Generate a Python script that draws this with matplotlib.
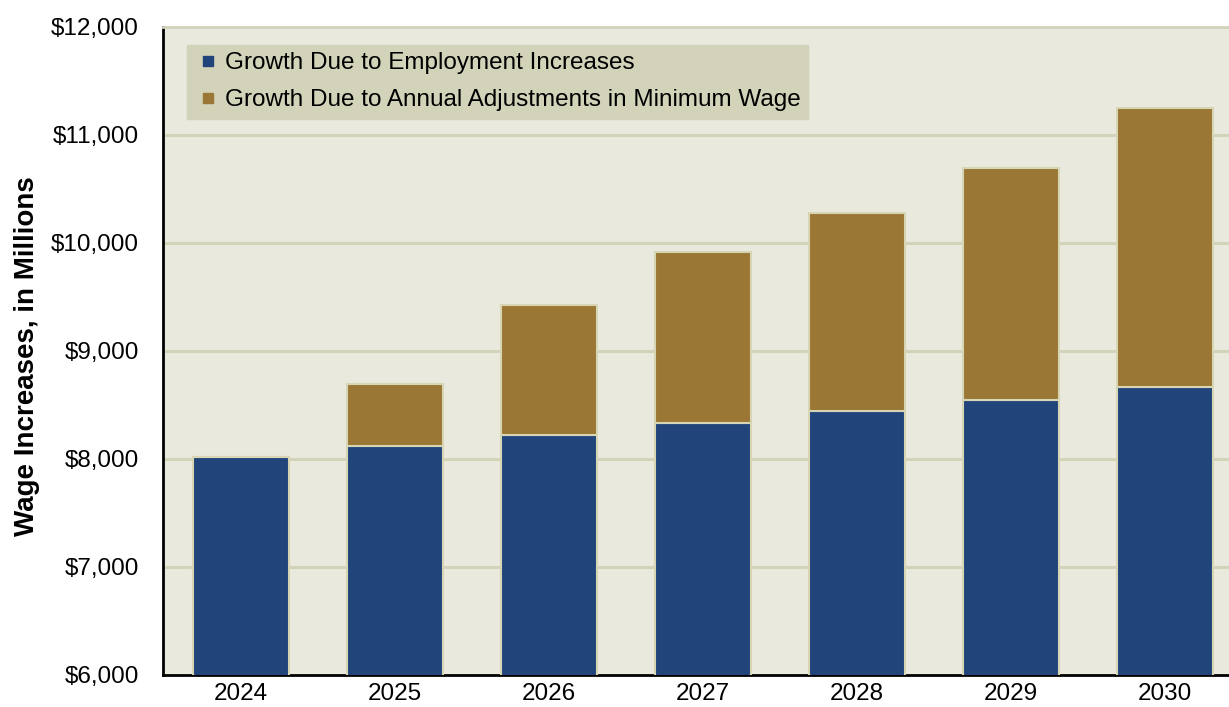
import matplotlib
matplotlib.use("Agg")
import matplotlib.pyplot as plt
from matplotlib.lines import Line2D
from matplotlib.ticker import FuncFormatter

years = ["2024", "2025", "2026", "2027", "2028", "2029", "2030"]
employment = [8015, 8120, 8225, 8333, 8444, 8546, 8667]
totals = [8015, 8692, 9426, 9917, 10278, 10694, 11253]
adjustments = [t - e for t, e in zip(totals, employment)]

blue = "#21457B"
brown = "#9A7735"
bg = "#E9E9DD"
grid = "#D3D3BA"
edge = "#D8D5B5"

plt.rcParams['font.family'] = ['Liberation Sans', 'DejaVu Sans']

fig = plt.figure(figsize=(12.29, 7.07), dpi=100)
ax = fig.add_axes([163/1229, 32/707, (1229-163)/1229, 648/707])
ax.set_facecolor(bg)

x = list(range(len(years)))
ax.bar(x, employment, width=0.62, bottom=0, color=blue, edgecolor=edge, linewidth=1.5, zorder=3)
ax.bar(x, adjustments, width=0.62, bottom=employment, color=brown, edgecolor=edge, linewidth=1.5, zorder=3)

ax.set_ylim(6000, 12000)
ax.set_xlim(-0.506, -0.506 + 1066/154)
ax.set_yticks(range(6000, 12001, 1000))
ax.yaxis.set_major_formatter(FuncFormatter(lambda v, p: "${:,.0f}".format(v)))
ax.set_xticks(x)
ax.set_xticklabels(years)
ax.tick_params(axis='both', length=0, labelsize=17.5, colors='black')
ax.tick_params(axis='y', pad=17.5)
ax.tick_params(axis='x', pad=6)
for v in range(7000, 12000, 1000):
    ax.axhline(v, color=grid, lw=2.2, zorder=1)

for s in ['left', 'bottom']:
    ax.spines[s].set_color('black')
    ax.spines[s].set_linewidth(2)
ax.spines['top'].set_color(grid)
ax.spines['top'].set_linewidth(2)
ax.spines['right'].set_visible(False)

ax.set_ylabel("Wage Increases, in Millions", fontsize=20, fontweight='bold')
ax.yaxis.set_label_coords((40 - 163) / 1066, (675 - 356) / 648)

handles = [Line2D([], [], marker='s', linestyle='none', markersize=6.5, color=blue),
           Line2D([], [], marker='s', linestyle='none', markersize=6.5, color=brown)]
labels = ["Growth Due to Employment Increases", "Growth Due to Annual Adjustments in Minimum Wage"]
leg = ax.legend(handles, labels, loc='upper left', bbox_to_anchor=(24/1066, (675-45)/648),
                borderaxespad=0, frameon=True, fancybox=False, fontsize=17.5,
                handlelength=1.15, handletextpad=0.12, borderpad=0.3, labelspacing=0.62)
leg.get_frame().set_facecolor(grid)
leg.get_frame().set_edgecolor(grid)
leg.get_frame().set_alpha(1)
leg.set_zorder(5)

fig.savefig("out.png", dpi=100)
